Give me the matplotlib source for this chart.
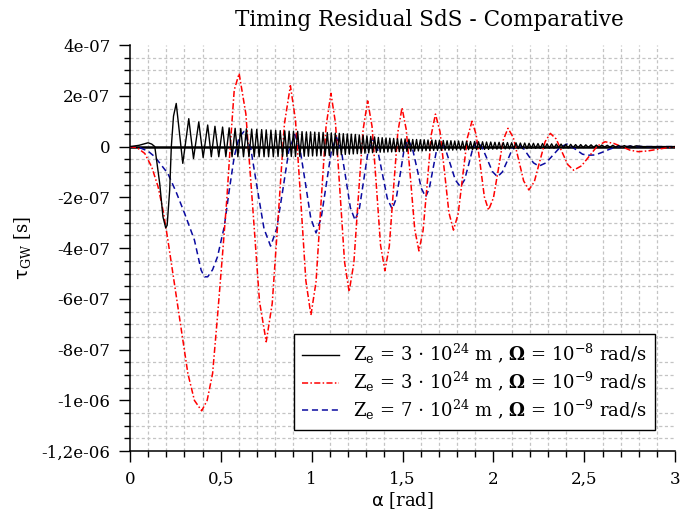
import numpy as np
import matplotlib
matplotlib.use("Agg")
import matplotlib.pyplot as plt
from matplotlib.ticker import MultipleLocator

# ── data (tau in units of 1e-7 s) ────────────────────────────────────────────

# black: Ze = 3e24 m, Omega = 1e-8 rad/s
black_head_alpha = [0.0, 0.05, 0.10, 0.12, 0.137, 0.164, 0.182, 0.197, 0.205, 0.219, 0.228, 0.240]
black_head_tau   = [0.0, 0.05, 0.15, 0.10, 0.0, -1.45, -2.77, -3.20, -3.10, -1.71, 0.0, 1.20]

black_peak_alpha = [
    0.255, 0.324, 0.379, 0.428, 0.468, 0.510, 0.546, 0.579, 0.610, 0.641,
    0.670, 0.698, 0.725, 0.750, 0.776, 0.802, 0.827, 0.852, 0.876, 0.900,
    0.923, 0.947, 0.971, 0.994, 1.017, 1.040, 1.063, 1.086, 1.108, 1.130,
    1.152, 1.174, 1.196, 1.218, 1.240, 1.262, 1.283, 1.304, 1.325, 1.346,
    1.367, 1.388, 1.409, 1.430, 1.451, 1.472, 1.493, 1.514, 1.535, 1.556,
    1.577, 1.598, 1.619, 1.640, 1.661, 1.682, 1.703, 1.724, 1.745, 1.766,
    1.787, 1.808, 1.830, 1.852, 1.874, 1.896, 1.918, 1.940, 1.962, 1.985,
    2.008, 2.031, 2.054, 2.077, 2.100, 2.124, 2.148, 2.172, 2.196, 2.220,
    2.245, 2.270, 2.295, 2.320, 2.346, 2.372, 2.398, 2.425, 2.452, 2.480,
    2.508, 2.537, 2.566, 2.596, 2.626, 2.657, 2.688, 2.720, 2.752, 2.785,
]
black_peak_tau = [
    1.70, 1.10, 0.97, 0.85, 0.80, 0.77, 0.74, 0.72, 0.71, 0.70,
    0.69, 0.68, 0.67, 0.66, 0.65, 0.64, 0.63, 0.62, 0.61, 0.60,
    0.60, 0.59, 0.58, 0.58, 0.57, 0.56, 0.56, 0.55, 0.54, 0.53,
    0.52, 0.51, 0.50, 0.49, 0.48, 0.46, 0.44, 0.42, 0.40, 0.38,
    0.36, 0.35, 0.34, 0.33, 0.32, 0.31, 0.30, 0.30, 0.29, 0.28,
    0.28, 0.27, 0.27, 0.26, 0.26, 0.25, 0.25, 0.24, 0.23, 0.23,
    0.22, 0.22, 0.21, 0.21, 0.20, 0.20, 0.19, 0.19, 0.18, 0.18,
    0.17, 0.17, 0.16, 0.16, 0.15, 0.15, 0.14, 0.14, 0.13, 0.13,
    0.12, 0.12, 0.11, 0.11, 0.10, 0.10, 0.09, 0.09, 0.08, 0.08,
    0.07, 0.07, 0.06, 0.06, 0.05, 0.05, 0.04, 0.04, 0.03, 0.03,
]
black_trough_alpha = [
    0.291, 0.350, 0.403, 0.448, 0.489, 0.528, 0.562, 0.594, 0.625, 0.655,
    0.684, 0.711, 0.738, 0.763, 0.789, 0.815, 0.840, 0.864, 0.888, 0.911,
    0.935, 0.959, 0.982, 1.005, 1.028, 1.051, 1.074, 1.097, 1.119, 1.141,
    1.163, 1.185, 1.207, 1.229, 1.251, 1.272, 1.293, 1.314, 1.335, 1.356,
    1.377, 1.398, 1.419, 1.440, 1.461, 1.482, 1.503, 1.524, 1.545, 1.566,
    1.587, 1.608, 1.629, 1.650, 1.671, 1.692, 1.713, 1.734, 1.755, 1.776,
    1.797, 1.819, 1.841, 1.863, 1.885, 1.907, 1.929, 1.951, 1.973, 1.996,
    2.019, 2.042, 2.065, 2.088, 2.112, 2.136, 2.160, 2.184, 2.208, 2.232,
    2.257, 2.282, 2.307, 2.333, 2.359, 2.385, 2.411, 2.438, 2.466, 2.494,
    2.522, 2.551, 2.581, 2.611, 2.641, 2.672, 2.704, 2.736, 2.768,
]
black_trough_tau = [
    -0.66, -0.47, -0.43, -0.40, -0.40, -0.40, -0.40, -0.40, -0.40, -0.40,
    -0.40, -0.40, -0.40, -0.40, -0.40, -0.39, -0.39, -0.39, -0.39, -0.39,
    -0.39, -0.38, -0.38, -0.37, -0.37, -0.36, -0.36, -0.35, -0.34, -0.33,
    -0.32, -0.31, -0.30, -0.29, -0.28, -0.27, -0.26, -0.25, -0.24, -0.23,
    -0.22, -0.22, -0.21, -0.21, -0.20, -0.20, -0.19, -0.19, -0.18, -0.18,
    -0.17, -0.17, -0.16, -0.16, -0.15, -0.15, -0.15, -0.14, -0.14, -0.14,
    -0.13, -0.13, -0.13, -0.12, -0.12, -0.12, -0.11, -0.11, -0.11, -0.10,
    -0.10, -0.10, -0.09, -0.09, -0.09, -0.08, -0.08, -0.08, -0.07, -0.07,
    -0.07, -0.06, -0.06, -0.06, -0.05, -0.05, -0.05, -0.04, -0.04, -0.04,
    -0.03, -0.03, -0.03, -0.02, -0.02, -0.02, -0.01, -0.01, -0.01,
]
black_tail_alpha = [2.82, 3.0]
black_tail_tau   = [0.0, 0.0]

# red: Ze = 3e24 m, Omega = 1e-9 rad/s
red_alpha = [
    0.0, 0.041, 0.082, 0.120, 0.155, 0.185, 0.209, 0.264, 0.319, 0.355,
    0.395, 0.425, 0.455, 0.483, 0.510, 0.533, 0.552, 0.574, 0.601,
    0.638, 0.676, 0.713, 0.750, 0.783, 0.817, 0.850, 0.883,
    0.911, 0.940, 0.968, 0.996, 1.024, 1.051, 1.079, 1.106,
    1.131, 1.156, 1.181, 1.206, 1.232, 1.257, 1.283, 1.308,
    1.332, 1.356, 1.379, 1.403, 1.427, 1.450, 1.474, 1.497,
    1.520, 1.544, 1.567, 1.590, 1.613, 1.636, 1.658, 1.681,
    1.706, 1.731, 1.755, 1.780, 1.806, 1.831, 1.857, 1.882,
    1.905, 1.928, 1.950, 1.973, 2.000, 2.027, 2.053, 2.080,
    2.109, 2.138, 2.166, 2.195, 2.225, 2.254, 2.284, 2.313,
    2.345, 2.377, 2.409, 2.441, 2.484, 2.528, 2.571, 2.614,
    2.660, 2.705, 2.751, 2.796, 2.850, 2.900, 2.950, 3.0,
]
red_tau = [
    0.0, -0.05, -0.27, -0.80, -1.58, -2.60, -3.68, -6.31, -8.94, -10.0,
    -10.41, -10.0, -8.94, -6.60, -4.21, -2.10, 0.0, 2.23, 2.88,
    1.29, -2.41, -6.10, -7.69, -6.18, -2.65, 0.89, 2.40,
    1.04, -2.12, -5.28, -6.64, -5.33, -2.27, 0.79, 2.10,
    0.93, -1.81, -4.55, -5.72, -4.59, -1.96, 0.67, 1.80,
    0.80, -1.55, -3.89, -4.89, -3.93, -1.68, 0.57, 1.53,
    0.68, -1.29, -3.26, -4.11, -3.30, -1.42, 0.47, 1.28,
    0.59, -1.01, -2.60, -3.29, -2.65, -1.15, 0.36, 1.00,
    0.47, -0.75, -1.98, -2.50, -2.02, -0.89, 0.24, 0.72,
    0.36, -0.50, -1.35, -1.71, -1.38, -0.60, 0.19, 0.52,
    0.30, -0.21, -0.71, -0.93, -0.76, -0.37, 0.02, 0.19,
    0.13, 0.0, -0.14, -0.20, -0.17, -0.11, -0.05, 0.0,
]

# blue: Ze = 7e24 m, Omega = 1e-9 rad/s
blue_alpha = [
    0.0, 0.05, 0.10, 0.137, 0.209, 0.255, 0.301, 0.355, 0.392, 0.410,
    0.428, 0.455, 0.482, 0.519, 0.545, 0.574, 0.600, 0.628,
    0.665, 0.701, 0.738, 0.774, 0.807, 0.841, 0.874, 0.907,
    0.936, 0.966, 0.995, 1.024, 1.052, 1.080, 1.108, 1.136,
    1.162, 1.188, 1.213, 1.239, 1.263, 1.287, 1.311, 1.335,
    1.362, 1.389, 1.416, 1.443, 1.465, 1.487, 1.508, 1.530,
    1.554, 1.579, 1.603, 1.627, 1.647, 1.667, 1.687, 1.707,
    1.735, 1.763, 1.790, 1.818, 1.841, 1.864, 1.886, 1.909,
    1.937, 1.966, 1.994, 2.022, 2.049, 2.077, 2.104, 2.131,
    2.161, 2.191, 2.220, 2.250, 2.289, 2.327, 2.366, 2.404,
    2.430, 2.460, 2.490, 2.520, 2.560, 2.600, 2.640, 2.680,
    2.750, 2.850, 3.0,
]
blue_tau = [
    0.0, -0.03, -0.18, -0.40, -1.06, -1.80, -2.63, -3.68, -4.87, -5.13,
    -5.13, -4.85, -4.34, -3.16, -1.80, -0.40, 0.35, 0.60,
    -0.08, -1.66, -3.24, -3.92, -3.26, -1.72, -0.18, 0.48,
    -0.10, -1.46, -2.82, -3.40, -2.83, -1.51, -0.19, 0.38,
    -0.11, -1.26, -2.41, -2.90, -2.42, -1.29, -0.16, 0.32,
    -0.10, -1.07, -2.04, -2.46, -2.05, -1.09, -0.13, 0.28,
    -0.06, -0.85, -1.64, -1.98, -1.65, -0.90, -0.14, 0.19,
    -0.08, -0.70, -1.31, -1.58, -1.31, -0.70, -0.08, 0.19,
    -0.02, -0.50, -0.98, -1.19, -1.00, -0.55, -0.09, 0.10,
    -0.03, -0.34, -0.64, -0.77, -0.64, -0.34, -0.03, 0.10,
    0.0, -0.15, -0.30, -0.34, -0.33, -0.22, -0.10, 0.0,
    0.01, 0.0, 0.0,
]

labels = [
    r"Z$_\mathregular{e}$ = 3 $\cdot$ 10$^\mathregular{24}$ m , $\mathbf{\Omega}$ = 10$^\mathregular{-8}$ rad/s",
    r"Z$_\mathregular{e}$ = 3 $\cdot$ 10$^\mathregular{24}$ m , $\mathbf{\Omega}$ = 10$^\mathregular{-9}$ rad/s",
    r"Z$_\mathregular{e}$ = 7 $\cdot$ 10$^\mathregular{24}$ m , $\mathbf{\Omega}$ = 10$^\mathregular{-9}$ rad/s",
]
x_ticks = [0, 0.5, 1, 1.5, 2, 2.5, 3]
x_ticklabels = ["0", "0,5", "1", "1,5", "2", "2,5", "3"]
y_ticks = [4e-7, 2e-7, 0, -2e-7, -4e-7, -6e-7, -8e-7, -1e-6, -1.2e-6]
y_ticklabels = ["4e-07", "2e-07", "0", "-2e-07", "-4e-07", "-6e-07",
                "-8e-07", "-1e-06", "-1,2e-06"]

SCALE = 1e-7

# ── build black curve from head, peaks, troughs and tail ─────────────────────
bx = np.array(black_head_alpha + black_peak_alpha + black_trough_alpha + black_tail_alpha)
by = np.array(black_head_tau + black_peak_tau + black_trough_tau + black_tail_tau)
order = np.argsort(bx, kind="stable")
bx, by = bx[order], by[order]

# ── figure ────────────────────────────────────────────────────────────────────
plt.rcParams["font.family"] = ["DejaVu Serif"]
plt.rcParams["mathtext.fontset"] = "dejavuserif"

fig = plt.figure(figsize=(6.8, 5.18), dpi=100)
ax = fig.add_axes([0.191, 0.129, 0.802, 0.784])

ax.axhline(0, color="black", lw=1.8, zorder=2)
ax.plot(bx, by * SCALE, color="black", lw=1.0, zorder=5, label=labels[0])
ax.plot(red_alpha, np.array(red_tau) * SCALE, color="#ff0000", lw=1.1,
        dashes=(4, 1.5, 1, 1.5), zorder=4, label=labels[1])
ax.plot(blue_alpha, np.array(blue_tau) * SCALE, color="#0a0aa0", lw=1.1,
        dashes=(4, 2.5), zorder=3, label=labels[2])

ax.set_xlim(0, 3)
ax.set_ylim(-1.2e-6, 4e-7)
ax.set_xticks(x_ticks)
ax.set_xticklabels(x_ticklabels)
ax.set_yticks(y_ticks)
ax.set_yticklabels(y_ticklabels)
ax.xaxis.set_minor_locator(MultipleLocator(0.1))
ax.yaxis.set_minor_locator(MultipleLocator(5e-8))
ax.tick_params(which="major", direction="out", length=8, width=1,
               labelsize=12, pad=6)
ax.tick_params(which="minor", direction="out", length=4.5, width=1)
ax.grid(which="minor", color="#c4c4c4", lw=0.9, ls=(0, (2.5, 2)))
ax.set_axisbelow(True)

for s in ("top", "right"):
    ax.spines[s].set_visible(False)
for s in ("left", "bottom"):
    ax.spines[s].set_linewidth(1.1)

ax.set_title("Timing Residual SdS - Comparative", fontsize=15.5, x=0.55, pad=14)
ax.set_xlabel(r"$\mathsf{\alpha}$ [rad]", fontsize=13, labelpad=2)
ax.set_ylabel(r"$\mathsf{\tau}_\mathregular{GW}$ [s]", fontsize=13, labelpad=6)

leg = ax.legend(loc="lower right", bbox_to_anchor=(0.962, 0.052),
                borderaxespad=0, fontsize=13, handlelength=2.0,
                labelspacing=0.2, borderpad=0.45, fancybox=False,
                framealpha=1, edgecolor="black")
leg.get_frame().set_linewidth(1.0)

fig.savefig("out.png", dpi=100)
